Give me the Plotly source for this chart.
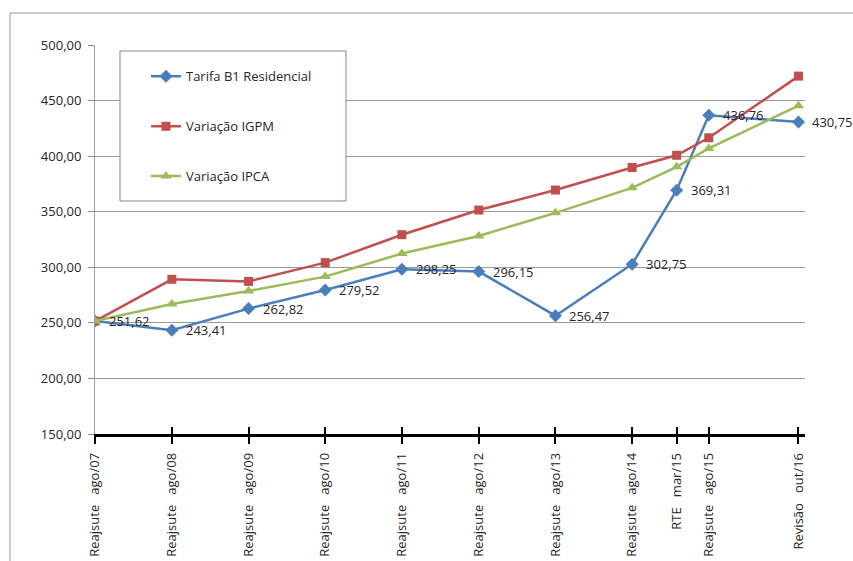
import plotly.graph_objects as go

# Reference dates of each tariff event and their axis labels
dates = ["2007-08-01", "2008-08-01", "2009-08-01", "2010-08-01", "2011-08-01",
         "2012-08-01", "2013-08-01", "2014-08-01", "2015-03-01", "2015-08-01",
         "2016-10-01"]
tick_labels = ["Reajsute ago/07", "Reajsute ago/08", "Reajsute ago/09",
               "Reajsute ago/10", "Reajsute ago/11", "Reajsute ago/12",
               "Reajsute ago/13", "Reajsute ago/14", "RTE mar/15",
               "Reajsute ago/15", "Revisão out/16"]

# Series values
tarifa_b1 = [251.62, 243.41, 262.82, 279.52, 298.25, 296.15, 256.47, 302.75,
             369.31, 436.76, 430.75]
variacao_igpm = [251.6, 289.2, 287.3, 304.2, 329.3, 351.5, 369.5, 389.8,
                 400.8, 416.5, 472.0]
variacao_ipca = [251.6, 266.9, 278.7, 291.6, 312.4, 328.2, 349.0, 371.5,
                 390.4, 406.9, 445.4]

FONT = "Open Sans"
BLUE, RED, GREEN = "#4A7EBB", "#C0504D", "#9BBB59"

fig = go.Figure()

series = [
    ("Tarifa B1 Residencial", tarifa_b1, BLUE, "diamond", 10),
    ("Variação IGPM", variacao_igpm, RED, "square", 9),
    ("Variação IPCA", variacao_ipca, GREEN, "triangle-up", 10),
]
for i, (name, vals, color, symbol, size) in enumerate(series):
    fig.add_trace(go.Scatter(
        x=dates, y=vals, name=name, mode="lines+markers",
        line=dict(color=color, width=2.5),
        marker=dict(symbol=symbol, size=size, color=color, line=dict(width=0)),
        legendgroup=f"g{i}",
    ))

# empty trace that carries the overlay axis used for the upward tick marks
fig.add_trace(go.Scatter(x=[], y=[], xaxis="x2", showlegend=False,
                         hoverinfo="skip"))

# value labels on the tariff series
for d, v in zip(dates, tarifa_b1):
    fig.add_annotation(
        x=d, y=v, xref="x", yref="y",
        text=f"{v:.2f}".replace(".", ","),
        showarrow=False, xanchor="left", yanchor="middle", xshift=12,
        font=dict(family=FONT, size=13, color="#262626"),
    )

x_range = ["2007-08-01", "2016-11-01"]
shown_labels = [t.replace(" ", "\u00a0\u00a0\u00a0") for t in tick_labels]

fig.update_layout(
    width=853, height=561,
    margin=dict(l=95, r=48, t=45, b=127, autoexpand=False),
    paper_bgcolor="white", plot_bgcolor="white",
    separators=",.",
    font=dict(family=FONT, size=13, color="#262626"),
    xaxis=dict(
        type="date", range=x_range, automargin=False,
        tickmode="array", tickvals=dates, ticktext=shown_labels,
        tickangle=-90, ticks="outside", ticklen=7, tickwidth=1.5,
        tickcolor="black", showline=True, linecolor="black", linewidth=2.5,
        showgrid=False, zeroline=False, ticklabelstandoff=4,
        tickfont=dict(family=FONT, size=13, color="#262626"),
    ),
    xaxis2=dict(
        type="date", range=x_range, overlaying="x", anchor="y", side="bottom",
        tickmode="array", tickvals=dates, ticks="inside", ticklen=7,
        tickwidth=1.5, tickcolor="black", showticklabels=False,
        showline=False, showgrid=False, zeroline=False, automargin=False,
    ),
    yaxis=dict(
        range=[150, 500], tickmode="linear", tick0=150, dtick=50,
        tickformat=".2f", ticks="outside", ticklen=6, tickcolor="#8c8c8c",
        showline=True, linecolor="#a0a0a0", linewidth=1, automargin=False,
        showgrid=True, gridcolor="#999999", gridwidth=1, zeroline=False,
        ticklabelstandoff=4,
        tickfont=dict(family=FONT, size=13, color="#262626"),
    ),
    legend=dict(
        x=0.0718, y=0.958, xanchor="left", yanchor="top",
        bgcolor="rgba(0,0,0,0)", borderwidth=0,
        tracegroupgap=30, itemwidth=30,
        font=dict(family=FONT, size=13, color="#262626"),
    ),
    shapes=[
        # outer chart frame
        dict(type="rect", xref="paper", yref="paper",
             x0=-0.1197, x1=1.2, y0=-0.5, y1=1.0823,
             line=dict(color="#9a9a9a", width=1), fillcolor="rgba(0,0,0,0)",
             layer="below"),
        # legend frame
        dict(type="rect", xref="paper", yref="paper",
             x0=0.0352, x1=0.3535, y0=0.599, y1=0.9846,
             line=dict(color="#85859c", width=1), fillcolor="white",
             layer="above"),
    ],
)

fig.write_html("out.html")
